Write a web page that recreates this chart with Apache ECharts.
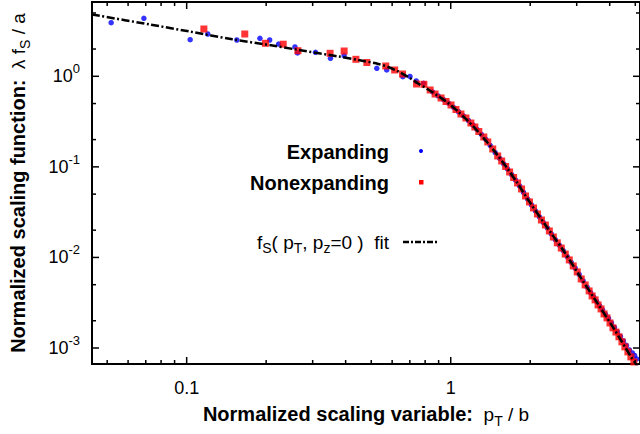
<!DOCTYPE html>
<html><head><meta charset="utf-8">
<script src="https://cdn.jsdelivr.net/npm/echarts@6/dist/echarts.min.js"></script>
<style>html,body{margin:0;padding:0;background:#fff}#c{width:640px;height:434px}</style>
</head><body><div id="c"></div>
<script>
// ---- data ----
const expandX = [0.05176,0.06887,0.1031,0.1202,0.1549,0.1894,0.2062,0.2229,0.2571,0.2628,0.3076,0.3504,0.3948,0.5248,0.5723,0.6586,0.701,0.7403,0.789,
  0.854,0.896,0.940,0.981,1.025,1.070,1.117,1.167,1.213,1.256,1.306,1.358,1.412,1.474,1.533,1.587,1.643,1.701,1.761,1.823,1.887,1.954,2.022,2.094,2.168,2.244,2.323,2.405,2.490,2.578,2.668,2.763,2.861,2.962,3.066,3.174,3.286,3.387,3.477,3.568,3.662,3.758,3.857,3.959,4.063,4.170,4.280,4.393,4.508,4.627,4.749,4.875,4.970,5.060];
const expandY = [3.905,4.368,2.535,2.93,2.516,2.627,2.516,2.272,2.106,1.808,1.84,1.58,1.688,1.226,1.174,0.99,0.995,0.887,0.837,
  0.671,0.606,0.551,0.504,0.455,0.406,0.365,0.325,0.290,0.260,0.229,0.201,0.172,0.144,0.124,0.108,0.0942,0.0819,0.0712,0.0616,0.0522,0.0442,0.0380,0.0326,0.0280,0.0243,0.0212,0.0182,0.0157,0.0137,0.0119,0.0102,0.0088,0.0076,0.0065,0.0055,0.0047,0.0041,0.00367,0.00328,0.002915,0.002634,0.00235,0.002122,0.001892,0.001688,0.001506,0.001343,0.001197,0.00107,0.000953,0.000883,0.000827,0.000758];
const nonexpX = [0.1162,0.166,0.1988,0.2321,0.2639,0.3492,0.3948,0.4374,0.4813,0.5675,0.6134,0.6569,0.7422,0.7914,
  0.8358,0.8727,0.9194,0.9601,1.0026,1.047,1.0934,1.1418,1.1922,1.2343,1.2778,1.3344,1.3815,1.4426,1.5065,1.5596,1.6146,1.6715,1.7305,1.7915,1.8547,1.9201,1.9877,2.0578,2.1304,2.2054,2.2832,2.3637,2.447,2.5333,2.6226,2.7151,2.8119,2.911,3.0136,3.1198,3.2298,3.3436,3.4317,3.522,3.6148,3.71,3.8076,3.9079,4.0108,4.1164,4.2248,4.336,4.4503,4.5674,4.6879,4.8114,4.938];
const nonexpY = [3.327,2.93,2.313,2.261,1.917,1.794,1.902,1.54,1.42,1.299,1.174,1.06,0.822,0.816,
  0.7062,0.6376,0.5761,0.527,0.4823,0.4301,0.3836,0.3465,0.3051,0.2757,0.2458,0.2138,0.1883,0.1576,0.1319,0.1162,0.101,0.0878,0.0764,0.0664,0.057,0.0477,0.041,0.0352,0.0302,0.0259,0.0228,0.0196,0.0168,0.0145,0.0127,0.0109,0.00939,0.00806,0.00692,0.00579,0.00497,0.00427,0.00376,0.0034,0.00299,0.0027,0.00238,0.00215,0.00189,0.00167,0.0015,0.00133,0.00117,0.00103,0.000906,0.000798,0.000702];
const fitX = [0.0438,0.0726,0.1026,0.149,0.2054,0.2662,0.3762,0.4474,0.5322,0.5804,0.6331,0.6905,0.7529,0.8214,0.8959,0.9768,1.0654,1.1619,1.2672,1.3823,1.5075,1.6441,1.7927,1.9548,2.3253,2.6942,3.0959,3.5868,4.1557,4.8186,5.2119];
const fitY = [4.81,3.73,3.12,2.56,2.215,1.951,1.654,1.513,1.367,1.266,1.130,0.9824,0.8326,0.7149,0.6061,0.5073,0.4088,0.3210,0.2459,0.1835,0.1336,0.0948,0.0656,0.0442,0.02116,0.0115,0.00609,0.00315,0.001625,0.000798,0.000573];
const xTicksMajor = [0.1, 1];
const xTicksMinor = [0.05,0.06,0.07,0.08,0.09,0.2,0.3,0.4,0.5,0.6,0.7,0.8,0.9,2,3,4,5];
const yTicksMajor = [0.001, 0.01, 0.1, 1];
const yTicksMinor = [0.002,0.005,0.02,0.05,0.2,0.5,2,5];
const xRange = [0.0438, 5.21];
const yRange = [0.000666, 6.61];
const seriesNames = ['Expanding', 'Nonexpanding', 'fS( pT, pz=0 )  fit'];

// ---- chart ----
const FONT = 'Liberation Sans';
const zip = (a, b) => a.map((v, i) => [v, b[i]]);
function isPow10(v) { const l = Math.log10(v); return Math.abs(l - Math.round(l)) < 1e-6; }
function tickSeries(values, axis, len) {
  return {
    type: 'custom', coordinateSystem: 'cartesian2d', silent: true, clip: false, z: 5,
    data: values.map(v => axis === 'x' ? [v, yRange[0]] : [xRange[0], v]),
    renderItem: (params, api) => {
      let shapes;
      if (axis === 'x') {
        const v = api.value(0);
        const a = api.coord([v, yRange[0]]), b = api.coord([v, yRange[1]]);
        shapes = [[a[0], a[1], a[0], a[1] - len], [b[0], b[1], b[0], b[1] + len]];
      } else {
        const v = api.value(1);
        const a = api.coord([xRange[0], v]), b = api.coord([xRange[1], v]);
        shapes = [[a[0], a[1], a[0] + len, a[1]], [b[0], b[1], b[0] - len, b[1]]];
      }
      return { type: 'group', children: shapes.map(s => ({
        type: 'line', shape: { x1: s[0], y1: s[1], x2: s[2], y2: s[3] },
        style: { stroke: '#000', lineWidth: 1.5 } })) };
    }
  };
}
const richBase = { fontFamily: FONT, color: '#000' };
const chart = echarts.init(document.getElementById('c'), null, { renderer: 'svg' });
chart.setOption({
  animation: false,
  backgroundColor: '#fff',
  grid: { left: 92, right: -3, top: 2, bottom: 70, show: true, borderColor: '#000', borderWidth: 2, backgroundColor: 'transparent' },
  xAxis: {
    type: 'log', logBase: 10, min: xRange[0], max: xRange[1],
    axisLine: { show: false }, axisTick: { show: false }, splitLine: { show: false }, minorTick: { show: false },
    axisLabel: { margin: 15, fontFamily: FONT, fontSize: 18, color: '#000', showMinLabel: false, showMaxLabel: false,
      formatter: v => isPow10(v) ? String(Math.round(v * 1000) / 1000) : '' },
    name: '{b|Normalized scaling variable:}{r|  p}{sub|T}{r| / b}',
    nameLocation: 'middle', nameGap: 36,
    nameTextStyle: { rich: {
      b: Object.assign({ fontSize: 20, fontWeight: 'bold', lineHeight: 28 }, richBase),
      r: Object.assign({ fontSize: 19, lineHeight: 28 }, richBase),
      sub: Object.assign({ fontSize: 14, lineHeight: 14, verticalAlign: 'bottom' }, richBase) } }
  },
  yAxis: {
    type: 'log', logBase: 10, min: yRange[0], max: yRange[1],
    axisLine: { show: false }, axisTick: { show: false }, splitLine: { show: false }, minorTick: { show: false },
    axisLabel: { margin: 12, showMinLabel: false, showMaxLabel: false,
      formatter: v => isPow10(v) ? '{b|10}{s|' + Math.round(Math.log10(v)) + '}' : '',
      rich: {
        b: Object.assign({ fontSize: 18, lineHeight: 28 }, richBase),
        s: Object.assign({ fontSize: 13, lineHeight: 13, verticalAlign: 'top' }, richBase) } },
    name: '{b|Normalized scaling function:}{r|  λ f}{sub|S}{r| / a}',
    nameLocation: 'middle', nameGap: 60,
    nameTextStyle: { rich: {
      b: Object.assign({ fontSize: 20, fontWeight: 'bold', lineHeight: 28 }, richBase),
      r: Object.assign({ fontSize: 19, lineHeight: 28 }, richBase),
      sub: Object.assign({ fontSize: 14, lineHeight: 14, verticalAlign: 'bottom' }, richBase) } }
  },
  series: [
    { name: seriesNames[0], type: 'scatter', data: zip(expandX, expandY), symbol: 'circle', symbolSize: 5.5,
      itemStyle: { color: '#0000ff' }, z: 2 },
    { name: seriesNames[1], type: 'scatter', data: zip(nonexpX, nonexpY), symbol: 'rect', symbolSize: 7,
      itemStyle: { color: '#ff0000' }, z: 3 },
    { name: seriesNames[2], type: 'line', data: zip(fitX, fitY), smooth: 0.3, showSymbol: false, symbol: 'none',
      lineStyle: { color: '#000', width: 2.5, type: [8, 2.5, 2, 2.5] }, z: 4 },
    tickSeries(xTicksMajor, 'x', 7), tickSeries(xTicksMinor, 'x', 4),
    tickSeries(yTicksMajor, 'y', 7), tickSeries(yTicksMinor, 'y', 4)
  ],
  graphic: [
    { type: 'text', x: 389, y: 152, style: { text: 'Expanding', align: 'right', verticalAlign: 'middle',
      fontFamily: FONT, fontSize: 20, fontWeight: 'bold', fill: '#000' } },
    { type: 'circle', shape: { cx: 421, cy: 151, r: 2 }, style: { fill: '#0000ff' } },
    { type: 'text', x: 389, y: 183, style: { text: 'Nonexpanding', align: 'right', verticalAlign: 'middle',
      fontFamily: FONT, fontSize: 20, fontWeight: 'bold', fill: '#000' } },
    { type: 'rect', shape: { x: 419, y: 180, width: 4.5, height: 4.5 }, style: { fill: '#ff0000' } },
    { type: 'text', x: 389, y: 242, style: {
      text: '{r|f}{sub|S}{r|( p}{sub|T}{r|, p}{sub|z}{r|=0 )  fit}', align: 'right', verticalAlign: 'middle',
      rich: {
        r: Object.assign({ fontSize: 19, lineHeight: 26 }, richBase),
        sub: Object.assign({ fontSize: 14, lineHeight: 14, verticalAlign: 'bottom' }, richBase) } } },
    { type: 'polyline', shape: { points: [[403, 242], [439, 242]] },
      style: { stroke: '#000', lineWidth: 2.5, lineDash: [6, 2, 2, 2], fill: null } }
  ]
});
</script></body></html>
